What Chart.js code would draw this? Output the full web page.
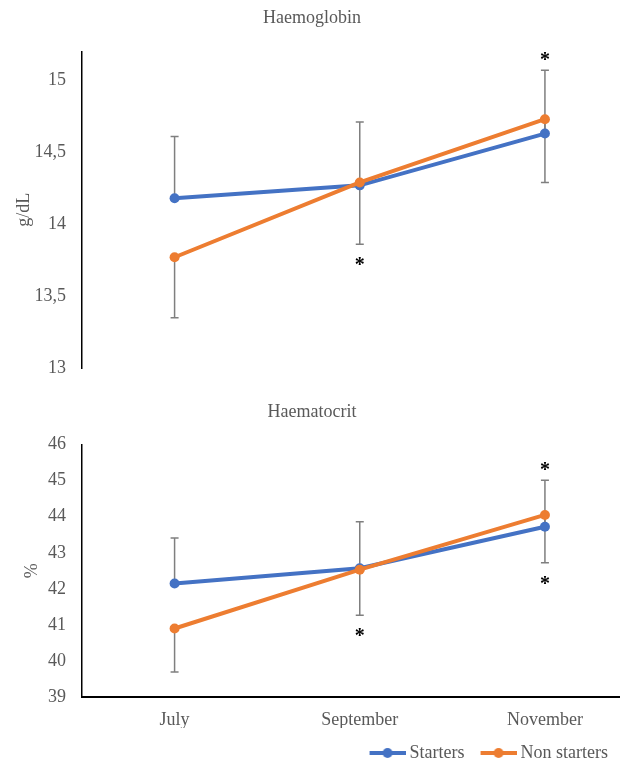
<!DOCTYPE html>
<html>
<head>
<meta charset="utf-8">
<script src="https://cdn.jsdelivr.net/npm/chart.js@4.4.1/dist/chart.umd.min.js"></script>
<style>
  html, body { margin: 0; padding: 0; background: #fff; }
  body { width: 624px; height: 761px; overflow: hidden; }
  .panel { position: relative; width: 624px; }
  #top { height: 380px; }
  #bottom { height: 392px; }
</style>
</head>
<body>
<div class="panel" id="top"><canvas id="hbChart"></canvas></div>
<div class="panel" id="bottom"><canvas id="hctChart"></canvas></div>
<script>
// Data
const months = ['July', 'September', 'November'];
const seriesNames = ['Starters', 'Non starters'];

const hbStarters = [14.18, 14.27, 14.63];
const hbNonStarters = [13.77, 14.29, 14.73];
const hbStartersErr = [0.43, 0.44, 0.44];      // drawn upwards
const hbNonStartersErr = [0.42, 0.43, 0.44];   // drawn downwards
const hbStars = [[], ['below'], ['above']];
const hbTicks = [13, 13.5, 14, 14.5, 15];

const hctStarters = [42.15, 42.57, 43.72];
const hctNonStarters = [40.90, 42.53, 44.05];
const hctStartersErr = [1.26, 1.29, 1.29];
const hctNonStartersErr = [1.21, 1.26, 1.33];
const hctStars = [[], ['below'], ['above', 'below']];
const hctTicks = [39, 40, 41, 42, 43, 44, 45, 46];

const FONT = "'Liberation Serif', 'Times New Roman', serif";
const GREY = '#595959';
const COLORS = ['#4472C4', '#ED7D31'];

// small line + dot icon for the legend (line sits on the right part of the image)
function legendIcon(color) {
  const c = document.createElement('canvas');
  c.width = 41; c.height = 12;
  const g = c.getContext('2d');
  g.strokeStyle = color; g.lineWidth = 4;
  g.beginPath(); g.moveTo(5, 6); g.lineTo(41, 6); g.stroke();
  g.fillStyle = color;
  g.beginPath(); g.arc(23, 6, 5, 0, Math.PI * 2); g.fill();
  return c;
}
const icons = COLORS.map(legendIcon);

// vertical error bars, one direction per series
const errorBars = {
  id: 'errorBars',
  beforeDatasetsDraw(chart) {
    const { ctx, scales: { x, y } } = chart;
    ctx.save();
    ctx.strokeStyle = '#7f7f7f';
    ctx.lineWidth = 1.5;
    chart.data.datasets.forEach(ds => {
      ds.data.forEach((p, i) => {
        const px = x.getPixelForValue(p.x);
        const y0 = y.getPixelForValue(p.y);
        const y1 = y.getPixelForValue(p.y + ds.errorDir * ds.errors[i]);
        ctx.beginPath();
        ctx.moveTo(px, y0); ctx.lineTo(px, y1);
        ctx.moveTo(px - 4, y1); ctx.lineTo(px + 4, y1);
        ctx.stroke();
      });
    });
    ctx.restore();
  }
};

// significance asterisks above / below the error bars
const sigStars = {
  id: 'sigStars',
  afterDatasetsDraw(chart, args, opts) {
    const { ctx, scales: { x, y } } = chart;
    ctx.save();
    ctx.fillStyle = '#000';
    ctx.font = 'bold 20px ' + FONT;
    ctx.textAlign = 'center';
    ctx.textBaseline = 'alphabetic';
    const m = ctx.measureText('*');
    const shift = (m.actualBoundingBoxAscent - m.actualBoundingBoxDescent) / 2;
    (opts.marks || []).forEach((list, i) => {
      const ends = chart.data.datasets.map(ds =>
        y.getPixelForValue(ds.data[i].y + ds.errorDir * ds.errors[i]));
      const px = x.getPixelForValue(i);
      list.forEach(where => {
        const cy = where === 'above' ? Math.min(...ends) - 14 : Math.max(...ends) + 17;
        ctx.fillText('*', px, cy + shift);
      });
    });
    ctx.restore();
  }
};

function makeDatasets(values, errors) {
  return values.map((vals, k) => ({
    label: seriesNames[k],
    data: months.map((m, i) => ({ x: i, y: vals[i] })),
    errors: errors[k],
    errorDir: k === 0 ? 1 : -1,
    borderColor: COLORS[k],
    backgroundColor: COLORS[k],
    pointBackgroundColor: COLORS[k],
    pointBorderColor: COLORS[k],
    borderWidth: 4,
    pointRadius: 5,
    pointBorderWidth: 0,
    tension: 0,
    order: k === 0 ? 1 : 0
  }));
}

function makeChart(id, cfg) {
  const ctx = document.getElementById(id).getContext('2d');
  return new Chart(ctx, {
    type: 'line',
    data: { datasets: makeDatasets(cfg.values, cfg.errors) },
    plugins: [errorBars, sigStars],
    options: {
      responsive: true,
      maintainAspectRatio: false,
      animation: false,
      events: [],
      layout: { padding: cfg.padding },
      scales: {
        x: {
          type: 'linear',
          display: cfg.showX,
          min: -0.5,
          max: 2.4,
          afterBuildTicks: s => { s.ticks = months.map((m, i) => ({ value: i })); },
          afterFit: s => {
            if (cfg.xHeight) s.height = cfg.xHeight;
            s.paddingLeft = 0; s.paddingRight = 0;
          },
          grid: { display: false, drawTicks: false },
          border: { display: true, color: '#000', width: 2 },
          ticks: {
            color: GREY,
            padding: 12,
            maxRotation: 0,
            font: { family: FONT, size: 18 },
            callback: v => months[v]
          }
        },
        y: {
          min: cfg.ticks[0],
          max: cfg.yMax,
          afterBuildTicks: s => { s.ticks = cfg.ticks.map(v => ({ value: v })); },
          afterFit: s => {
            s.width = 82;
            s.paddingTop = 0; s.paddingBottom = 0;
          },
          grid: { display: false, drawTicks: false },
          border: { display: true, color: '#000', width: 1.5 },
          ticks: {
            color: GREY,
            padding: 16,
            font: { family: FONT, size: 18 },
            callback: v => String(v).replace('.', ',')
          },
          title: {
            display: true,
            text: cfg.yTitle,
            color: GREY,
            font: { family: FONT, size: 18 },
            padding: { top: cfg.yTitlePad, bottom: 0 }
          }
        }
      },
      plugins: {
        title: {
          display: true,
          text: cfg.title,
          color: GREY,
          font: { family: FONT, size: 18, weight: 'normal' },
          padding: cfg.titlePad
        },
        legend: {
          display: cfg.showLegend,
          position: 'bottom',
          align: 'end',
          labels: {
            usePointStyle: true,
            pointStyleWidth: 31,
            color: GREY,
            padding: 16,
            font: { family: FONT, size: 18 },
            sort: (a, b) => a.datasetIndex - b.datasetIndex,
            generateLabels: chart =>
              Chart.defaults.plugins.legend.labels.generateLabels(chart).map(item => {
                item.pointStyle = icons[item.datasetIndex];
                return item;
              })
          }
        },
        tooltip: { enabled: false },
        sigStars: { marks: cfg.stars }
      }
    }
  });
}

makeChart('hbChart', {
  title: 'Haemoglobin',
  titlePad: { top: 7, bottom: 23 },
  values: [hbStarters, hbNonStarters],
  errors: [hbStartersErr, hbNonStartersErr],
  stars: hbStars,
  ticks: hbTicks,
  yMax: 15.2,
  yTitle: 'g/dL',
  yTitlePad: 13,
  showX: false,
  showLegend: false,
  padding: { left: 0, right: 0, top: 0, bottom: 12 }
});

makeChart('hctChart', {
  title: 'Haematocrit',
  titlePad: { top: 21, bottom: 22 },
  values: [hctStarters, hctNonStarters],
  errors: [hctStartersErr, hctNonStartersErr],
  stars: hctStars,
  ticks: hctTicks,
  yMax: 46,
  yTitle: '%',
  yTitlePad: 21,
  showX: true,
  xHeight: 31,
  showLegend: true,
  padding: { left: 0, right: 0, top: 0, bottom: 0 }
});
</script>
</body>
</html>
